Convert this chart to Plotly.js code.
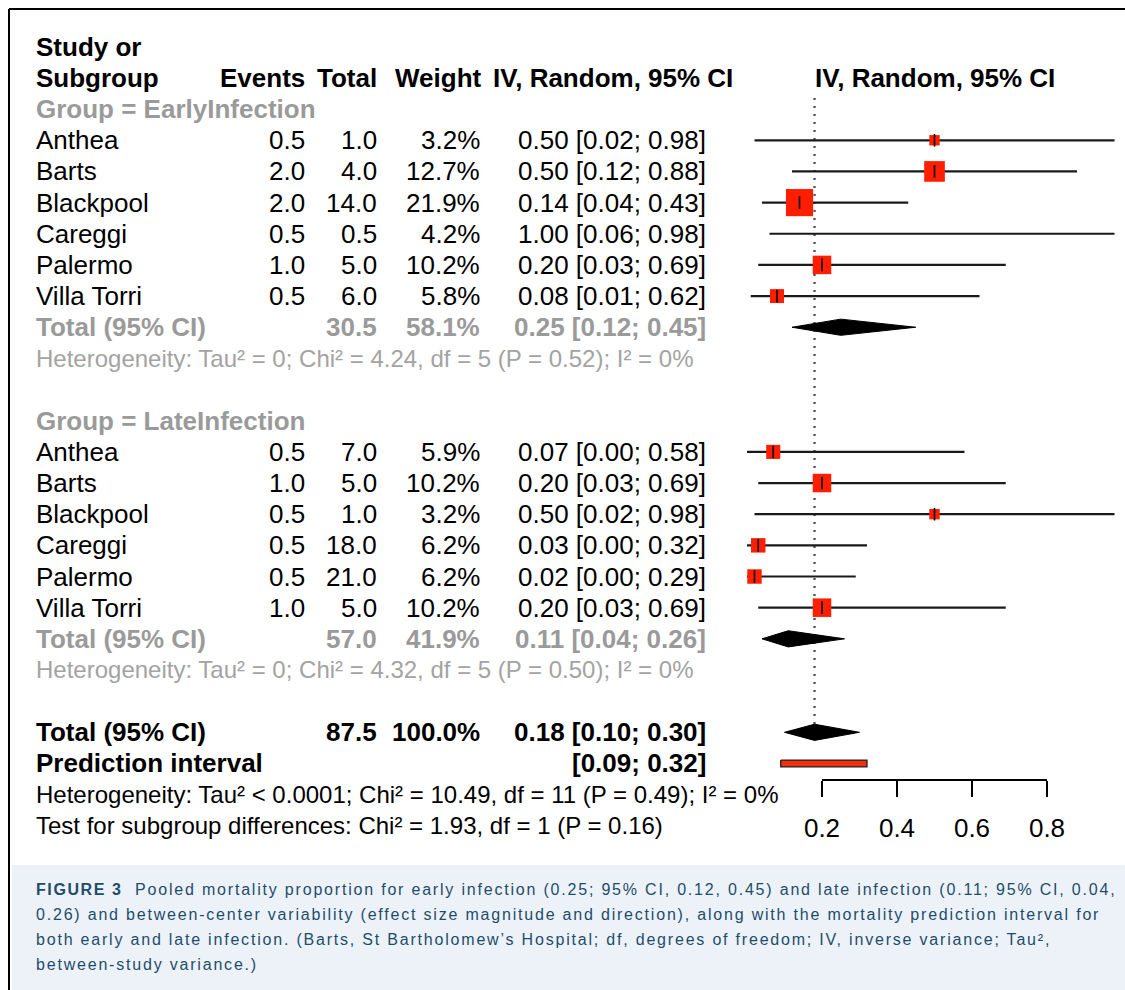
<!DOCTYPE html>
<html><head><meta charset="utf-8">
<script src="https://cdn.plot.ly/plotly-3.0.1.min.js"></script>
<style>html,body{margin:0;padding:0;background:#fff}#chart{width:1125px;height:990px}</style>
</head><body><div id="chart"></div>
<script>
// ---------------- DATA ----------------
const studies = ["Anthea", "Barts", "Blackpool", "Careggi", "Palermo", "Villa Torri"];

const earlyEvents = [0.5, 2.0, 2.0, 0.5, 1.0, 0.5];
const earlyTotal  = [1.0, 4.0, 14.0, 0.5, 5.0, 6.0];
const earlyWeight = [3.2, 12.7, 21.9, 4.2, 10.2, 5.8];
const earlyEst    = [0.50, 0.50, 0.14, 1.00, 0.20, 0.08];
const earlyLo     = [0.02, 0.12, 0.04, 0.06, 0.03, 0.01];
const earlyHi     = [0.98, 0.88, 0.43, 0.98, 0.69, 0.62];

const lateEvents = [0.5, 1.0, 0.5, 0.5, 0.5, 1.0];
const lateTotal  = [7.0, 5.0, 1.0, 18.0, 21.0, 5.0];
const lateWeight = [5.9, 10.2, 3.2, 6.2, 6.2, 10.2];
const lateEst    = [0.07, 0.20, 0.50, 0.03, 0.02, 0.20];
const lateLo     = [0.00, 0.03, 0.02, 0.00, 0.00, 0.03];
const lateHi     = [0.58, 0.69, 0.98, 0.32, 0.29, 0.69];

// pooled: [N total, weight %, estimate, lower, upper]
const earlyPooled   = [30.5, 58.1, 0.25, 0.12, 0.45];
const latePooled    = [57.0, 41.9, 0.11, 0.04, 0.26];
const overallPooled = [87.5, 100.0, 0.18, 0.10, 0.30];
const predInterval  = [0.09, 0.32];

const axisTicks = [0.2, 0.4, 0.6, 0.8];
const axisTickText = ["0.2", "0.4", "0.6", "0.8"];

const earlyHetText = "Heterogeneity: Tau\u00b2 = 0; Chi\u00b2 = 4.24, df = 5 (P = 0.52); I\u00b2 = 0%";
const lateHetText  = "Heterogeneity: Tau\u00b2 = 0; Chi\u00b2 = 4.32, df = 5 (P = 0.50); I\u00b2 = 0%";
const totalHetText = "Heterogeneity: Tau\u00b2 &lt; 0.0001; Chi\u00b2 = 10.49, df = 11 (P = 0.49); I\u00b2 = 0%";
const subgroupText = "Test for subgroup differences: Chi\u00b2 = 1.93, df = 1 (P = 0.16)";

const captionHead = "FIGURE 3";
const captionLines = [
  "Pooled mortality proportion for early infection (0.25; 95% CI, 0.12, 0.45) and late infection (0.11; 95% CI, 0.04,",
  "0.26) and between-center variability (effect size magnitude and direction), along with the mortality prediction interval for",
  "both early and late infection. (Barts, St Bartholomew\u2019s Hospital; df, degrees of freedom; IV, inverse variance; Tau\u00b2,",
  "between-study variance.)"
];

// ---------------- LAYOUT CONSTANTS ----------------
const W = 1125, H = 990;
const FONT = "Liberation Sans, Arial, sans-serif";
const FS = 26, FS_SMALL = 24;
const GREY = "#9a9a9a";
const ROW = {studyOr: 0, subgroup: 1, earlyGroup: 2, earlyFirst: 3, earlyTotal: 9, earlyHet: 10,
             lateGroup: 12, lateFirst: 13, lateTotal: 19, lateHet: 20, total: 22, pred: 23, het: 24, test: 25};
const COL = {study: 36, events: 305, total: 377, weight: 480, ci: 706, weightHead: 482, ciHead: 733};
const PAD = 2;                            // annotation inner padding compensation
const yRange = [30.27, -1.502];
const xPlotRight = 1115.5;               // px where the forest panel is clipped
const x0px = 747, pxPerUnit = 375;       // value 0 and scale of the effect axis
const xRange = [-x0px / pxPerUnit, (xPlotRight - x0px) / pxPerUnit];
const axisLinePx = 779;

const f1 = v => v.toFixed(1);
const f2 = v => v.toFixed(2);
const ci = (e, l, h) => f2(e) + " [" + f2(l) + "; " + f2(h) + "]";

const annotations = [];
function txt(text, px, row, anchor, o) {
  o = o || {};
  let xp = px;
  if (!o.xref) xp = (anchor === "left" ? px - PAD : anchor === "right" ? px + PAD : px) / W;
  annotations.push({
    text: text, xref: o.xref || "paper", x: xp, yref: "y", y: row,
    xanchor: anchor, yanchor: "middle", showarrow: false, align: anchor === "right" ? "right" : "left",
    font: {family: FONT, size: o.size || FS, color: o.color || "#000", weight: o.bold ? "bold" : "normal"}
  });
}
const B = {bold: true};

// headers
txt("Study or", COL.study, ROW.studyOr, "left", B);
txt("Subgroup", COL.study, ROW.subgroup, "left", B);
txt("Events", COL.events, ROW.subgroup, "right", B);
txt("Total", COL.total, ROW.subgroup, "right", B);
txt("Weight", COL.weightHead, ROW.subgroup, "right", B);
txt("IV, Random, 95% CI", COL.ciHead, ROW.subgroup, "right", B);
txt("IV, Random, 95% CI", 0.5, ROW.subgroup, "center", {bold: true, xref: "x"});

function groupBlock(label, first, ev, tot, wt, est, lo, hi, pooled, totRow, hetRow, hetText, groupRow) {
  txt(label, COL.study, groupRow, "left", {bold: true, color: GREY});
  studies.forEach((s, i) => {
    const r = first + i;
    txt(s, COL.study, r, "left");
    txt(f1(ev[i]), COL.events, r, "right");
    txt(f1(tot[i]), COL.total, r, "right");
    txt(f1(wt[i]) + "%", COL.weight, r, "right");
    txt(ci(est[i], lo[i], hi[i]), COL.ci, r, "right");
  });
  const g = {bold: true, color: GREY};
  txt("Total (95% CI)", COL.study, totRow, "left", g);
  txt(f1(pooled[0]), COL.total, totRow, "right", g);
  txt(f1(pooled[1]) + "%", COL.weight, totRow, "right", g);
  txt(ci(pooled[2], pooled[3], pooled[4]), COL.ci, totRow, "right", g);
  txt(hetText, COL.study, hetRow, "left", {color: "#a3a3a3", size: FS_SMALL});
}
groupBlock("Group = EarlyInfection", ROW.earlyFirst, earlyEvents, earlyTotal, earlyWeight, earlyEst, earlyLo, earlyHi,
           earlyPooled, ROW.earlyTotal, ROW.earlyHet, earlyHetText, ROW.earlyGroup);
groupBlock("Group = LateInfection", ROW.lateFirst, lateEvents, lateTotal, lateWeight, lateEst, lateLo, lateHi,
           latePooled, ROW.lateTotal, ROW.lateHet, lateHetText, ROW.lateGroup);

txt("Total (95% CI)", COL.study, ROW.total, "left", B);
txt(f1(overallPooled[0]), COL.total, ROW.total, "right", B);
txt(f1(overallPooled[1]) + "%", COL.weight, ROW.total, "right", B);
txt(ci(overallPooled[2], overallPooled[3], overallPooled[4]), COL.ci, ROW.total, "right", B);
txt("Prediction interval", COL.study, ROW.pred, "left", B);
txt("[" + f2(predInterval[0]) + "; " + f2(predInterval[1]) + "]", COL.ci, ROW.pred, "right", B);
txt(totalHetText, COL.study, ROW.het, "left", {size: FS_SMALL});
txt(subgroupText, COL.study, ROW.test, "left", {size: FS_SMALL});

// caption
const CAP_FS = 16;
const capY = [889, 914, 939, 964];
const sp = t => '<span style="letter-spacing:1.8px;font-size:' + CAP_FS + 'px">' + t + '</span>';
captionLines.forEach((t, i) => {
  const head = i === 0 ? '<span style="letter-spacing:1.6px;font-size:' + CAP_FS + 'px;font-weight:900">' + captionHead + '</span>' + sp("  ") : "";
  annotations.push({
    text: head + sp(t),
    xref: "paper", yref: "paper", x: (36 - PAD) / W, y: 1 - capY[i] / H, xanchor: "left", yanchor: "middle",
    showarrow: false, align: "left",
    font: {family: FONT, size: CAP_FS, color: "#1d4d6b"}
  });
});

// ---------------- TRACES ----------------
const traces = [];
const allEst = earlyEst.concat(lateEst), allLo = earlyLo.concat(lateLo), allHi = earlyHi.concat(lateHi);
const allW = earlyWeight.concat(lateWeight);
const allRows = studies.map((_, i) => ROW.earlyFirst + i).concat(studies.map((_, i) => ROW.lateFirst + i));

// reference (overall estimate) dotted line
traces.push({x: [overallPooled[2], overallPooled[2]], y: [1.64, ROW.total], mode: "lines",
  line: {color: "#555", width: 2.4, dash: "2px,6px"}, hoverinfo: "skip", showlegend: false});

// CI lines
const lx = [], ly = [];
allRows.forEach((r, i) => { lx.push(allLo[i], allHi[i], null); ly.push(r, r, null); });
traces.push({x: lx, y: ly, mode: "lines", line: {color: "#1a1a1a", width: 2.2}, hoverinfo: "skip", showlegend: false});

// weight squares
traces.push({x: allEst, y: allRows, mode: "markers",
  marker: {symbol: "square", color: "#ff1e00", opacity: 1, size: allW.map(w => 5.8 * Math.sqrt(w)), line: {width: 0}},
  showlegend: false, hoverinfo: "x"});
// estimate ticks
traces.push({x: allEst, y: allRows, mode: "markers",
  marker: {symbol: "line-ns", size: 9, opacity: 1, line: {color: "#000", width: 1.6}}, showlegend: false, hoverinfo: "skip"});

// diamonds
const dh = 0.26;
[[earlyPooled, ROW.earlyTotal], [latePooled, ROW.lateTotal], [overallPooled, ROW.total]].forEach(([p, r]) => {
  traces.push({x: [p[3], p[2], p[4], p[2], p[3]], y: [r, r - dh, r, r + dh, r], mode: "lines", fill: "toself",
    fillcolor: "#000", line: {color: "#000", width: 1}, hoverinfo: "skip", showlegend: false});
});

// prediction interval bar
const ph = 0.11, pr = ROW.pred;
traces.push({x: [predInterval[0], predInterval[1], predInterval[1], predInterval[0], predInterval[0]],
  y: [pr - ph, pr - ph, pr + ph, pr + ph, pr - ph], mode: "lines", fill: "toself",
  fillcolor: "#f0300f", line: {color: "#222", width: 1.3}, hoverinfo: "skip", showlegend: false});

// invisible trace carrying the effect axis
traces.push({x: axisTicks, y: axisTicks.map(() => 0), xaxis: "x2", yaxis: "y2", mode: "markers",
  marker: {opacity: 0}, hoverinfo: "skip", showlegend: false});

const layout = {
  width: W, height: H, autosize: false,
  margin: {l: 0, r: 0, t: 0, b: 0, pad: 0},
  paper_bgcolor: "#fff", plot_bgcolor: "rgba(0,0,0,0)",
  font: {family: FONT, size: FS, color: "#000"},
  showlegend: false,
  xaxis: {domain: [0, xPlotRight / W], range: xRange, visible: false, fixedrange: true},
  yaxis: {domain: [0, 1], range: yRange, visible: false, fixedrange: true},
  xaxis2: {domain: [(x0px + 0.2 * pxPerUnit) / W, (x0px + 0.8 * pxPerUnit) / W], range: [0.2, 0.8],
    anchor: "y2", side: "bottom", showline: true, linecolor: "#000", linewidth: 2,
    ticks: "outside", ticklen: 16, tickwidth: 2, tickcolor: "#000",
    tickmode: "array", tickvals: axisTicks, ticktext: axisTickText, ticklabelstandoff: 9,
    tickfont: {family: FONT, size: FS, color: "#000"}, showgrid: false, zeroline: false, fixedrange: true},
  yaxis2: {domain: [1 - axisLinePx / H, 0.9], range: [-1, 1], visible: false, anchor: "x2", fixedrange: true},
  shapes: [
    {type: "rect", xref: "paper", yref: "paper", x0: 12 / W, x1: 1.01, y0: -0.01, y1: 1 - 865 / H,
     fillcolor: "#edf2f9", line: {width: 0}, layer: "below"},
    {type: "line", xref: "paper", yref: "paper", x0: 9 / W, x1: 1.01, y0: 1 - 9 / H, y1: 1 - 9 / H,
     line: {color: "#000", width: 2}},
    {type: "line", xref: "paper", yref: "paper", x0: 9 / W, x1: 9 / W, y0: -0.01, y1: 1 - 9 / H,
     line: {color: "#000", width: 2}}
  ],
  annotations: annotations
};

Plotly.newPlot("chart", traces, layout, {displayModeBar: false, staticPlot: true});
</script>
</body></html>
